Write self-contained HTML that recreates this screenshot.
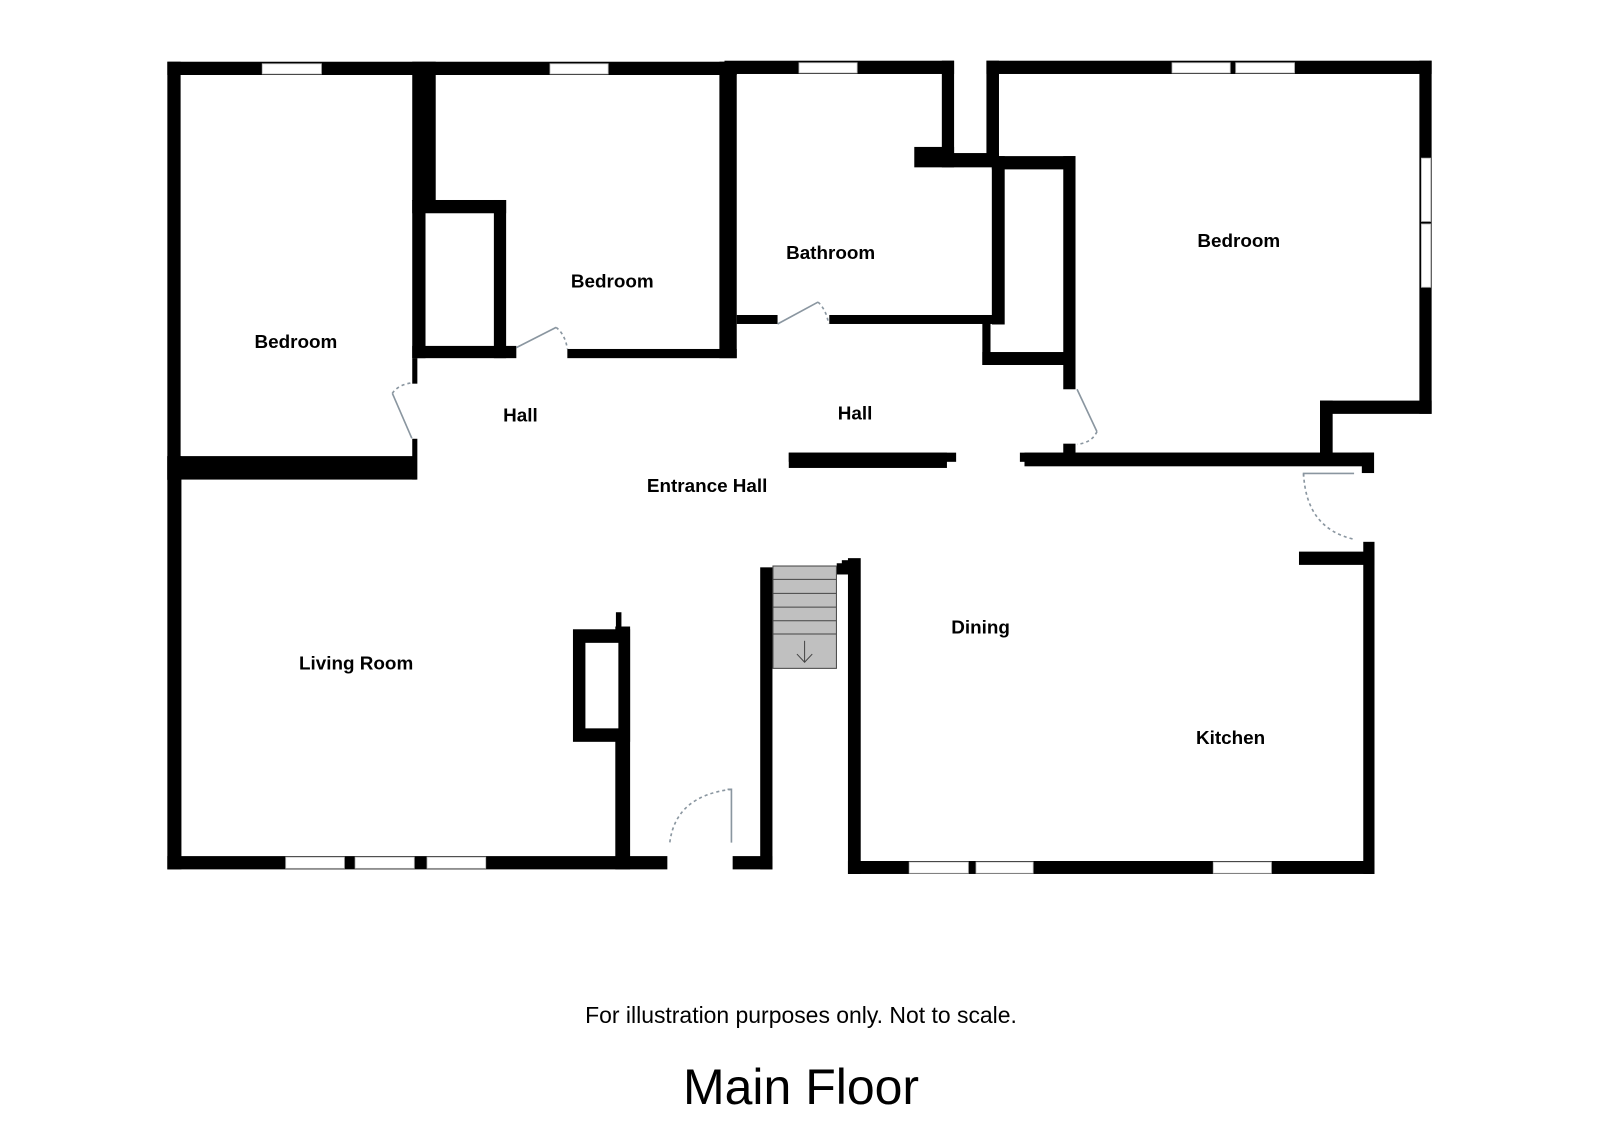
<!DOCTYPE html>
<html><head><meta charset="utf-8"><style>
html,body{margin:0;padding:0;background:#fff;}
svg{display:block;}
.w{fill:#000;}
.win{fill:#fff;stroke:#bbb;stroke-width:0.8;}
.lbl{font-family:"Liberation Sans",Arial,sans-serif;font-weight:bold;font-size:18.5px;fill:#000;text-anchor:middle;}
.leaf{stroke:#8a96a0;stroke-width:1.6;fill:none;}
.arc{stroke:#8a96a0;stroke-width:1.6;fill:none;stroke-dasharray:3 3;}
</style></head><body>
<svg width="1600" height="1131" viewBox="0 0 1568 1108.4" preserveAspectRatio="none" xmlns="http://www.w3.org/2000/svg">
<rect width="1568" height="1108.4" fill="#fff"/>
<rect class="w" x="164" y="60.5" width="558" height="13"/>
<rect class="w" x="164" y="60.5" width="13" height="410"/>
<rect class="w" x="164" y="447" width="244" height="23"/>
<rect class="w" x="404" y="60.5" width="23" height="136"/>
<rect class="w" x="404" y="196" width="13" height="155"/>
<rect class="w" x="404" y="196" width="92" height="13"/>
<rect class="w" x="484" y="196" width="12" height="155"/>
<rect class="w" x="404" y="339" width="102" height="12"/>
<rect class="w" x="404" y="351" width="5" height="25"/>
<rect class="w" x="404" y="430" width="5" height="40"/>
<rect class="w" x="556" y="342" width="166" height="9"/>
<rect class="w" x="705" y="60.5" width="17" height="290.5"/>
<rect class="w" x="710" y="59.5" width="225" height="13"/>
<rect class="w" x="923" y="59.5" width="12" height="91"/>
<rect class="w" x="896" y="144" width="39" height="20"/>
<rect class="w" x="923" y="150" width="56" height="14"/>
<rect class="w" x="722" y="308.7" width="40" height="8.8"/>
<rect class="w" x="812.7" y="308.7" width="165" height="8.8"/>
<rect class="w" x="972" y="153" width="82" height="13"/>
<rect class="w" x="972" y="153" width="12.6" height="165"/>
<rect class="w" x="962.7" y="308.7" width="8" height="49"/>
<rect class="w" x="962.7" y="345" width="91" height="12.7"/>
<rect class="w" x="1042" y="153" width="12" height="228.5"/>
<rect class="w" x="1042" y="434.8" width="12" height="12"/>
<rect class="w" x="966.7" y="59.5" width="436.3" height="13"/>
<rect class="w" x="966.7" y="59.5" width="12.3" height="104"/>
<rect class="w" x="1391" y="59.5" width="12" height="346"/>
<rect class="w" x="1293.6" y="392.6" width="109.4" height="13"/>
<rect class="w" x="1293.6" y="392.6" width="12.4" height="60"/>
<rect class="w" x="999.5" y="443.6" width="347" height="9"/>
<rect class="w" x="1004" y="443.6" width="342.5" height="13.4"/>
<rect class="w" x="1334.6" y="443.6" width="12" height="20"/>
<rect class="w" x="773" y="443.6" width="164" height="9"/>
<rect class="w" x="773" y="443.6" width="155" height="15"/>
<rect class="w" x="164" y="447" width="13.8" height="405"/>
<rect class="w" x="164" y="839" width="490" height="13"/>
<rect class="w" x="603" y="614" width="14.5" height="238"/>
<rect class="w" x="603.6" y="600" width="5.4" height="16"/>
<rect class="w" x="561.5" y="616.7" width="56" height="110.3"/>
<rect fill="#fff" x="573.7" y="630" width="32.3" height="83.8"/>
<rect class="w" x="718" y="839" width="39" height="13"/>
<rect class="w" x="745" y="556" width="12" height="296"/>
<rect class="w" x="831" y="547" width="12.5" height="309.5"/>
<rect class="w" x="820" y="552" width="12" height="11"/>
<rect class="w" x="825" y="549" width="8" height="6"/>
<rect class="w" x="831" y="843.8" width="516" height="12.7"/>
<rect class="w" x="1336" y="531" width="11" height="325.5"/>
<rect class="w" x="1273" y="540.6" width="74" height="13"/>
<rect class="win" x="257" y="62.5" width="58" height="10"/>
<rect class="win" x="539" y="62.5" width="57" height="10"/>
<rect class="win" x="783" y="61.5" width="57" height="10"/>
<rect class="win" x="1148.6" y="61.5" width="57" height="10"/>
<rect class="win" x="1211" y="61.5" width="57.6" height="10"/>
<rect class="win" x="1393" y="155" width="9" height="62"/>
<rect class="win" x="1393" y="219.5" width="9" height="62"/>
<rect class="win" x="280" y="840" width="57.5" height="11"/>
<rect class="win" x="348" y="840" width="58" height="11"/>
<rect class="win" x="418.5" y="840" width="57.5" height="11"/>
<rect class="win" x="891" y="844.8" width="58" height="11"/>
<rect class="win" x="956.5" y="844.8" width="56" height="11"/>
<rect class="win" x="1189" y="844.8" width="57" height="11"/>
<rect x="757.5" y="554.7" width="62.2" height="100.3" fill="#c0c0c0" stroke="#444" stroke-width="1"/>
<g stroke="#444" stroke-width="1">
<line x1="757.5" y1="567.8" x2="819.7" y2="567.8"/>
<line x1="757.5" y1="581.5" x2="819.7" y2="581.5"/>
<line x1="757.5" y1="595" x2="819.7" y2="595"/>
<line x1="757.5" y1="608.3" x2="819.7" y2="608.3"/>
<line x1="757.5" y1="621.3" x2="819.7" y2="621.3"/>
<line x1="788.5" y1="628" x2="788.5" y2="649"/>
<polyline points="781,641 788.5,649 796,641" fill="none"/>
</g>
<line class="leaf" x1="403.6" y1="429.6" x2="384.5" y2="385.5"/>
<path class="arc" d="M384.5,385.5 Q390,377 404.4,375"/>
<line class="leaf" x1="506" y1="340.7" x2="545" y2="320.8"/>
<path class="arc" d="M545,320.8 Q554,328 556,342"/>
<line class="leaf" x1="762" y1="317.5" x2="801.7" y2="296"/>
<path class="arc" d="M801.7,296 Q810,304 812,317.5"/>
<line class="leaf" x1="1055.5" y1="381.5" x2="1075" y2="423"/>
<path class="arc" d="M1075,423 Q1070,434 1055.5,435.4"/>
<polyline class="leaf" points="716.8,825.8 716.8,773.5 713,773.5"/>
<path class="arc" d="M716.8,773.5 Q662,780 656.4,825.8"/>
<polyline class="leaf" points="1277.5,467 1277.5,464 1327,464"/>
<path class="arc" d="M1277.5,464 Q1280,518 1327,528.5"/>
<text class="lbl" x="290" y="341">Bedroom</text>
<text class="lbl" x="600" y="282">Bedroom</text>
<text class="lbl" x="814" y="254">Bathroom</text>
<text class="lbl" x="1214" y="242">Bedroom</text>
<text class="lbl" x="510" y="413">Hall</text>
<text class="lbl" x="838" y="411">Hall</text>
<text class="lbl" x="693" y="482">Entrance Hall</text>
<text class="lbl" x="349" y="656">Living Room</text>
<text class="lbl" x="961" y="621">Dining</text>
<text class="lbl" x="1206" y="729">Kitchen</text>
<text x="785" y="1002.5" text-anchor="middle" font-family="Liberation Sans, Arial, sans-serif" font-size="22.5" fill="#000">For illustration purposes only. Not to scale.</text>
<text x="785" y="1082" text-anchor="middle" font-family="Liberation Sans, Arial, sans-serif" font-size="49" fill="#000">Main Floor</text>
</svg>
</body></html>
